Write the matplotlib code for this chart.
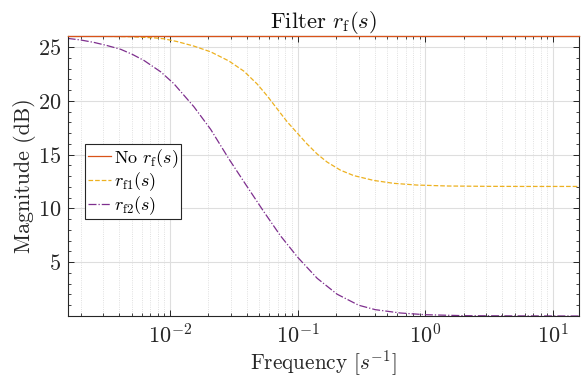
import numpy as np
import matplotlib
matplotlib.use("Agg")
import matplotlib.pyplot as plt
from matplotlib.ticker import LogLocator, FixedLocator, MultipleLocator, NullFormatter

# ---- data ----
freq_nof = [0.00159, 15.9]
mag_nof = [26.02, 26.02]

freq_f1 = [0.00159, 0.003, 0.005, 0.0075, 0.00898, 0.0114, 0.0154, 0.0208, 0.0289,
           0.0379, 0.0482, 0.0577, 0.069, 0.0826, 0.1, 0.118, 0.142, 0.17,
           0.216, 0.274, 0.393, 0.562, 0.856, 1.5, 3.0, 6.0, 15.9]
mag_f1 = [26.01, 25.99, 25.95, 25.85, 25.76, 25.5, 25.08, 24.55, 23.7,
          22.75, 21.55, 20.45, 19.25, 18.05, 16.95, 16.0, 15.05, 14.3,
          13.55, 13.05, 12.6, 12.33, 12.17, 12.08, 12.05, 12.04, 12.04]

freq_f2 = [0.00158, 0.002, 0.00255, 0.0032, 0.00412, 0.0051, 0.00627, 0.00846,
           0.0107, 0.0154, 0.0208, 0.0289, 0.039, 0.0542, 0.0733, 0.1, 0.142,
           0.203, 0.3, 0.404, 0.634, 1.0, 2.0, 5.0, 15.9]
mag_f2 = [25.8, 25.65, 25.42, 25.14, 24.78, 24.3, 23.74, 22.69,
          21.6, 19.44, 17.35, 14.6, 12.25, 9.7, 7.45, 5.45, 3.5,
          2.03, 1.0, 0.59, 0.28, 0.12, 0.03, 0.01, 0.0]

labels = [r"No $r_\mathrm{f}(s)$", r"$r_\mathrm{f1}(s)$", r"$r_\mathrm{f2}(s)$"]
colors = ["#D95319", "#EDB120", "#7E2F8E"]
styles = ["-", "--", "-."]
yticks = [5, 10, 15, 20, 25]

plt.rcParams["font.family"] = "serif"
plt.rcParams["font.serif"] = ["cmr10", "DejaVu Serif"]
plt.rcParams["mathtext.fontset"] = "cm"
plt.rcParams["axes.formatter.use_mathtext"] = True
plt.rcParams["axes.unicode_minus"] = False

fig = plt.figure(figsize=(5.84, 3.81), dpi=100)
ax = fig.add_axes([0.1164, 0.1706, 0.8750, 0.7349])

for i, (fx, my, lab, c, ls) in enumerate(zip([freq_nof, freq_f1, freq_f2],
                                             [mag_nof, mag_f1, mag_f2],
                                             labels, colors, styles)):
    ax.plot(fx, my, color=c, ls=ls, lw=0.9, label=lab,
            clip_on=(i != 0), zorder=4 if i == 0 else 2)

ax.set_xscale("log")
ax.set_xlim(0.00159, 15.9)
ax.set_ylim(0, 26.02)
ax.yaxis.set_major_locator(FixedLocator(yticks))
ax.yaxis.set_minor_locator(MultipleLocator(1))
ax.xaxis.set_major_locator(LogLocator(base=10, numticks=20))
ax.xaxis.set_minor_locator(LogLocator(base=10, subs=np.arange(2, 10), numticks=20))
ax.xaxis.set_minor_formatter(NullFormatter())

ax.grid(True, which="major", axis="both", color="#dedede", lw=0.8, ls="-")
ax.grid(True, which="minor", axis="x", color="#d6d6d6", lw=0.6, ls=":")
ax.set_axisbelow(True)

ax.tick_params(which="both", direction="in", top=True, right=True, colors="#262626",
               labelsize=16, labelcolor="#262626")
ax.tick_params(which="major", length=4, width=0.7, pad=5)
ax.tick_params(which="minor", length=2, width=0.6)
for s in ax.spines.values():
    s.set_color("#262626")
    s.set_linewidth(0.8)

ax.set_xlabel(r"Frequency $[s^{-1}]$", fontsize=15.3, color="#262626", labelpad=1)
ax.set_ylabel("Magnitude (dB)", fontsize=15.8, color="#262626", labelpad=1)
ax.set_title(r"Filter $r_\mathrm{f}(s)$", fontsize=16.3, color="#111111", pad=5)

leg = ax.legend(loc="upper left", bbox_to_anchor=(0.033, 0.614), fontsize=13,
                fancybox=False, framealpha=1, edgecolor="#262626",
                handlelength=1.3, handletextpad=0.15, borderpad=0.15,
                labelspacing=0.05, borderaxespad=0)
leg.get_frame().set_linewidth(0.8)

fig.savefig("out.png", dpi=100)
